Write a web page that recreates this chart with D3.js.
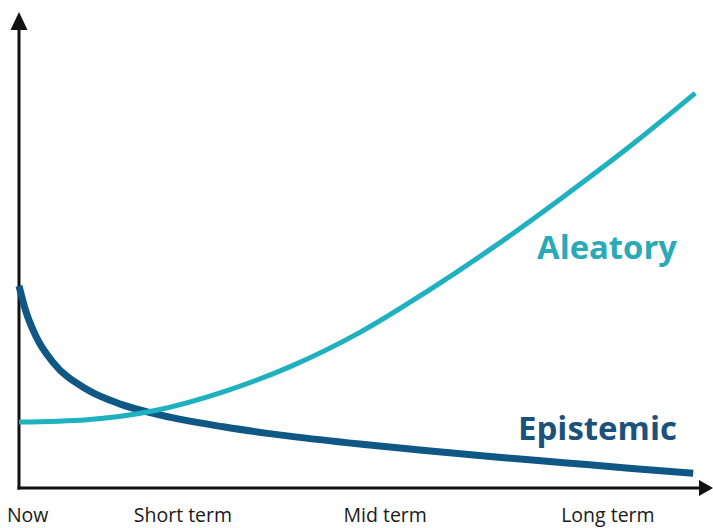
<!DOCTYPE html>
<html>
<head>
<meta charset="utf-8">
<script src="https://cdn.jsdelivr.net/npm/d3@7"></script>
<style>
  html, body { margin: 0; padding: 0; background: #fff; }
  svg { display: block; }
</style>
</head>
<body>
<svg id="chart" width="713" height="528"></svg>
<script>
// ---- data ----
const categories = ["Now", "Short term", "Mid term", "Long term"];
const categoryPos = [0.12, 2.4, 5.37, 8.64];

const aleatoryT = [0, 1, 2, 3, 4, 5, 6, 7, 8, 9, 9.93];
const aleatoryV = [1.38, 1.43, 1.62, 2.01, 2.55, 3.25, 4.12, 5.07, 6.1, 7.18, 8.26];

const epistemicT = [0, 0.1, 0.25, 0.5, 1, 1.5, 2, 3, 4, 5, 6, 7, 8, 9, 9.9];
const epistemicV = [4.23, 3.7, 3.17, 2.63, 2.06, 1.75, 1.55, 1.28, 1.08, 0.92, 0.78, 0.65, 0.53, 0.41, 0.31];

const seriesNames = ["Aleatory", "Epistemic"];
const seriesColors = ["#1fb1bf", "#0f5784"];
const labelColors = ["#2aa9b6", "#1a527d"];

// ---- layout ----
const svg = d3.select("#chart");
const x = d3.scaleLinear().domain([0, 10]).range([19, 700]);
const y = d3.scaleLinear().domain([0, 10]).range([488, 10]);

// axes
const axisColor = "#111";
const x0 = x(0), y0 = y(0);
svg.append("line").attr("x1", x0).attr("y1", y0 + 1.5).attr("x2", x0).attr("y2", 26)
  .attr("stroke", axisColor).attr("stroke-width", 3);
svg.append("path")
  .attr("d", `M${x0},12 L${x0 - 8.5},30 L${x0 + 8.5},30 Z`)
  .attr("fill", axisColor);
svg.append("line").attr("x1", x0 - 1.5).attr("y1", y0).attr("x2", 702).attr("y2", y0)
  .attr("stroke", axisColor).attr("stroke-width", 3);
svg.append("path")
  .attr("d", `M713,${y0} L699,${y0 - 8} L699,${y0 + 8} Z`)
  .attr("fill", axisColor);

// x category labels via axis
const xAxis = d3.axisBottom(x)
  .tickValues(categoryPos)
  .tickFormat((d, i) => categories[i])
  .tickSize(0)
  .tickPadding(0);
const gx = svg.append("g").attr("transform", `translate(0,${y0})`).call(xAxis);
gx.select(".domain").remove();
gx.selectAll("text")
  .attr("y", 34)
  .attr("dy", 0)
  .attr("font-family", "'Open Sans', sans-serif")
  .attr("font-size", 19.5)
  .attr("fill", "#1a1a1a");

// lines
const line = d3.line().x(d => x(d[0])).y(d => y(d[1])).curve(d3.curveMonotoneX);
const aleatory = aleatoryT.map((t, i) => [t, aleatoryV[i]]);
const epistemic = epistemicT.map((t, i) => [t, epistemicV[i]]);

svg.append("path").datum(epistemic)
  .attr("d", line).attr("fill", "none")
  .attr("stroke", seriesColors[1]).attr("stroke-width", 7);
svg.append("path").datum(aleatory)
  .attr("d", line).attr("fill", "none")
  .attr("stroke", seriesColors[0]).attr("stroke-width", 5);

// series labels
svg.append("text").text(seriesNames[0])
  .attr("x", 537).attr("y", 259)
  .attr("font-family", "'Open Sans', sans-serif").attr("font-weight", 700)
  .attr("font-size", 32).attr("fill", labelColors[0])
  .attr("textLength", 140).attr("lengthAdjust", "spacingAndGlyphs");
svg.append("text").text(seriesNames[1])
  .attr("x", 518).attr("y", 440)
  .attr("font-family", "'Open Sans', sans-serif").attr("font-weight", 700)
  .attr("font-size", 33).attr("fill", labelColors[1])
  .attr("textLength", 159).attr("lengthAdjust", "spacingAndGlyphs");
</script>
</body>
</html>
